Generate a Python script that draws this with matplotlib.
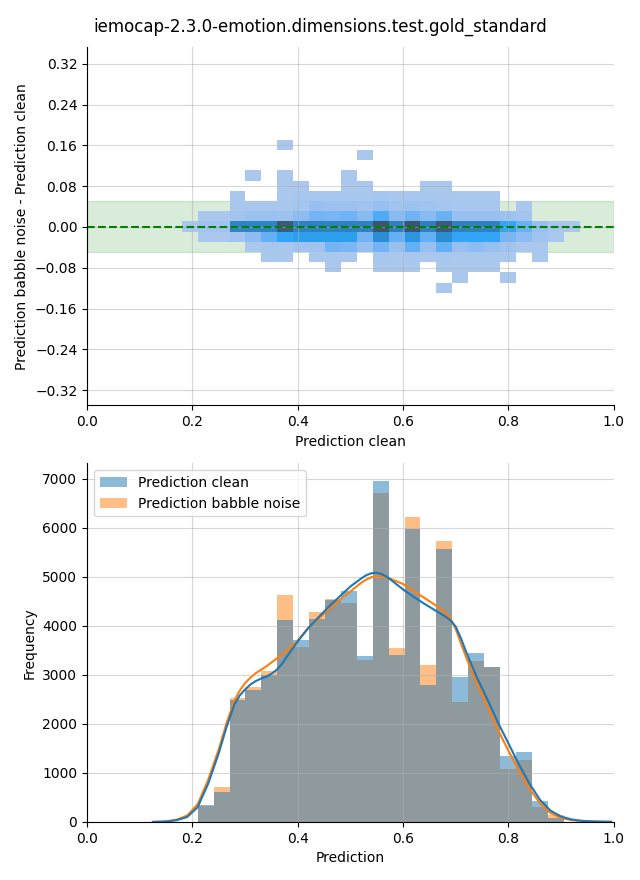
import numpy as np
import seaborn as sns
from matplotlib import pyplot as plt

title = "iemocap-2.3.0-emotion.dimensions.test.gold_standard"

# shared x bins (prediction clean)
bin_start = 0.180
bin_width = 0.0302
n_bins = 25

# top panel: counts per cell, rows from diff 0.16 (top) down to -0.12
diff_rows = [0.161, 0.141, 0.121, 0.101, 0.081, 0.061, 0.041, 0.021,
             0.001, -0.019, -0.039, -0.059, -0.079, -0.099, -0.119]
diff_counts = [
    [0, 0, 0, 0, 0, 0, 1, 0, 0, 0, 0, 0, 0, 0, 0, 0, 0, 0, 0, 0, 0, 0, 0, 0, 0],
    [0, 0, 0, 0, 0, 0, 0, 0, 0, 0, 0, 1, 0, 0, 0, 0, 0, 0, 0, 0, 0, 0, 0, 0, 0],
    [0, 0, 0, 0, 0, 0, 0, 0, 0, 0, 0, 0, 0, 0, 0, 0, 0, 0, 0, 0, 0, 0, 0, 0, 0],
    [0, 0, 0, 0, 1, 0, 1, 0, 0, 0, 1, 0, 0, 0, 0, 0, 0, 0, 0, 0, 0, 0, 0, 0, 0],
    [0, 0, 0, 0, 0, 0, 1, 1, 0, 0, 1, 1, 0, 0, 0, 1, 1, 0, 0, 0, 0, 0, 0, 0, 0],
    [0, 0, 0, 1, 0, 0, 1, 2, 2, 2, 2, 2, 3, 2, 2, 2, 2, 1, 1, 1, 0, 0, 0, 0, 0],
    [0, 0, 0, 2, 2, 2, 2, 3, 8, 6, 6, 5, 8, 5, 6, 5, 3, 2, 2, 2, 0, 1, 0, 0, 0],
    [0, 1, 1, 4, 7, 7, 6, 12, 19, 18, 20, 13, 28, 13, 20, 13, 22, 8, 8, 8, 6, 4, 0, 0, 0],
    [1, 5, 5, 60, 60, 60, 95, 62, 62, 62, 62, 62, 100, 64, 100, 64, 95, 62, 62, 62, 33, 22, 8, 2, 1],
    [0, 1, 1, 4, 12, 23, 33, 39, 39, 39, 39, 19, 53, 23, 46, 23, 53, 33, 33, 33, 17, 12, 5, 1, 0],
    [0, 0, 0, 0, 1, 2, 2, 5, 5, 19, 17, 8, 19, 8, 23, 8, 23, 8, 12, 8, 5, 1, 1, 0, 0],
    [0, 0, 0, 0, 0, 1, 1, 0, 1, 1, 1, 0, 2, 1, 2, 1, 2, 1, 1, 1, 1, 0, 1, 0, 0],
    [0, 0, 0, 0, 0, 0, 0, 0, 0, 1, 0, 0, 1, 1, 1, 0, 1, 1, 1, 1, 0, 0, 0, 0, 0],
    [0, 0, 0, 0, 0, 0, 0, 0, 0, 0, 0, 0, 0, 0, 0, 0, 0, 1, 0, 0, 1, 0, 0, 0, 0],
    [0, 0, 0, 0, 0, 0, 0, 0, 0, 0, 0, 0, 0, 0, 0, 0, 1, 0, 0, 0, 0, 0, 0, 0, 0],
]

# bottom panel: histogram counts per bin
clean_counts = [4, 340, 600, 2490, 2690, 3000, 4120, 3710, 4140, 4530, 4710, 3390,
                6960, 3410, 5980, 2800, 5570, 2960, 3450, 3165, 1350, 1430, 430, 80, 6]
babble_counts = [3, 330, 710, 2530, 2750, 3080, 4630, 3560, 4290, 4550, 4460, 3310,
                 6710, 3550, 6220, 3200, 5730, 2450, 3290, 3160, 1080, 1270, 310, 140, 4]

# kde curves
kde_x = [0.125, 0.15, 0.17, 0.19, 0.21, 0.23, 0.25, 0.265, 0.28, 0.29, 0.30, 0.31,
         0.32, 0.33, 0.34, 0.35, 0.36, 0.37, 0.38, 0.40, 0.42, 0.44, 0.46, 0.48,
         0.50, 0.52, 0.53, 0.54, 0.55, 0.56, 0.57, 0.58, 0.60, 0.62, 0.64, 0.66,
         0.68, 0.69, 0.70, 0.71, 0.72, 0.74, 0.76, 0.78, 0.80, 0.82, 0.84, 0.86,
         0.88, 0.90, 0.92, 0.94, 0.96, 0.98, 0.995]
kde_clean = [0, 8, 35, 100, 300, 780, 1400, 1940, 2400, 2580, 2700, 2800,
             2870, 2920, 2960, 3020, 3100, 3220, 3380, 3680, 3950, 4180, 4400, 4600,
             4800, 4960, 5030, 5070, 5080, 5050, 4990, 4910, 4740, 4590, 4450, 4320,
             4190, 4110, 3980, 3740, 3460, 2950, 2500, 2030, 1600, 1170, 780, 450,
             230, 110, 50, 22, 10, 5, 3]
kde_babble = [0, 10, 45, 130, 360, 860, 1480, 2020, 2480, 2680, 2830, 2940,
              3030, 3100, 3170, 3250, 3330, 3410, 3500, 3700, 3960, 4150, 4350, 4530,
              4700, 4870, 4940, 4990, 5010, 5005, 4980, 4940, 4850, 4710, 4570, 4430,
              4270, 4150, 3930, 3640, 3350, 2830, 2350, 1880, 1450, 1050, 680, 380,
              180, 80, 35, 15, 7, 3, 2]

x_edges = bin_start + bin_width * np.arange(n_bins + 1)
x_left = x_edges[:-1]
x_mid = x_left + bin_width / 2
y_edges = np.append(np.array(diff_rows[::-1]) - 0.01, diff_rows[0] + 0.01)

fig, (ax1, ax2) = plt.subplots(2, 1, figsize=(6.4, 8.8))
plt.subplots_adjust(left=0.136, right=0.959, top=0.9466, bottom=0.066, hspace=0.162)
fig.suptitle(title)

# ---- top: 2d histogram of the difference
xs, ys, ws = [], [], []
for i, row in enumerate(diff_counts):
    for j, c in enumerate(row):
        if c > 0:
            xs.append(x_mid[j])
            ys.append(diff_rows[i])
            ws.append(c)

ax1.axhspan(-0.05, 0.05, color="green", alpha=0.15, zorder=0)
sns.histplot(x=xs, y=ys, weights=ws, bins=[x_edges, y_edges], ax=ax1)
ax1.axhline(0, color="green", linestyle="--")
ax1.set_xlim(0, 1)
ax1.set_ylim(-0.35, 0.353)
ax1.set_yticks(np.arange(-0.32, 0.33, 0.08))
ax1.grid(True, alpha=0.5)
ax1.set_xlabel("Prediction clean")
ax1.set_ylabel("Prediction babble noise - Prediction clean")

# ---- bottom: both histograms with kde
b1 = ax2.bar(x_left, babble_counts, width=bin_width, align="edge", color="C1",
             alpha=0.5, linewidth=0, label="Prediction babble noise")
b2 = ax2.bar(x_left, clean_counts, width=bin_width, align="edge", color="C0",
             alpha=0.5, linewidth=0, label="Prediction clean")
ax2.plot(kde_x, kde_babble, color="C1", linewidth=1.5)
ax2.plot(kde_x, kde_clean, color="C0", linewidth=1.5)
ax2.set_xlim(0, 1)
ax2.grid(True, alpha=0.5)
ax2.set_xlabel("Prediction")
ax2.set_ylabel("Frequency")
ax2.legend(handles=[b2, b1], loc="upper left")

sns.despine(fig=fig)
plt.savefig("out.png", dpi=100)
